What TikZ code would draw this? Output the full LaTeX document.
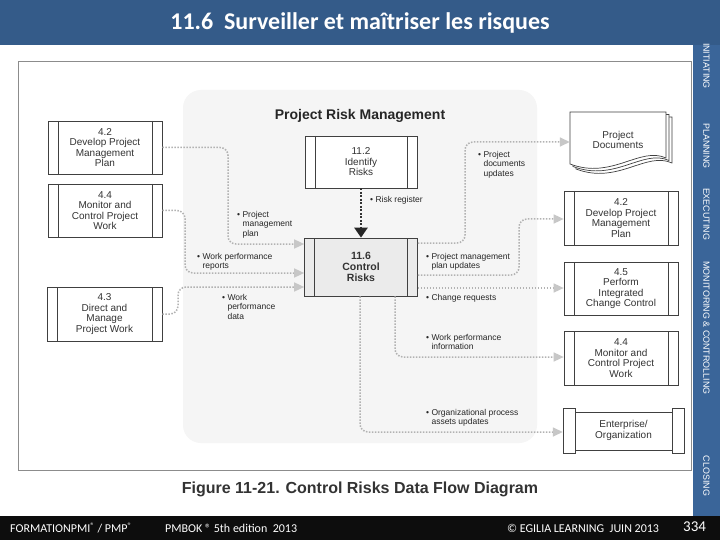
\documentclass[tikz,border=0pt]{standalone}
\usepackage{fontspec}
\setmainfont{Liberation Sans}
\newfontfamily\calib{Carlito}
\usetikzlibrary{arrows.meta}
\definecolor{barblue}{HTML}{345B89}
\definecolor{sideblue}{HTML}{3A6599}
\newcommand\lbul{\textbullet\ }
\newcommand\lind{\hphantom{\textbullet\ }}
\begin{document}
\begin{tikzpicture}[x=1pt,y=-1pt,
  proc/.style={draw=black!75, line width=0.7pt, fill=white, inner sep=1pt, align=center,
    font=\fontsize{10}{10.5}\selectfont, text=black!80,
    path picture={\draw[black!75, line width=0.7pt]
      ([xshift=10pt]path picture bounding box.north west) -- ([xshift=10pt]path picture bounding box.south west)
      ([xshift=-10pt]path picture bounding box.north east) -- ([xshift=-10pt]path picture bounding box.south east);}},
  flow/.style={draw=black!30, line width=1.5pt, dash pattern=on 1.5pt off 1.5pt, rounded corners=8pt,
    -{Triangle[length=10pt,width=9pt,color=black!22]}},
  rrarrow/.style={draw=black!80, line width=2.4pt, dash pattern=on 2pt off 1.5pt,
    -{Triangle[length=10pt,width=13pt,color=black!85]}},
  lbl/.style={font=\fontsize{8.5}{9.5}\selectfont, align=left, inner sep=0pt, anchor=north west, text=black!85},
  side/.style={font=\fontsize{8.9}{10}\selectfont, text=white, rotate=-90, inner sep=0pt},
  foot/.style={font=\calib\fontsize{12}{14}\selectfont, text=white, anchor=west, inner sep=0pt},
  docst/.style={draw=black!75, line width=0.7pt, fill=white}]
\useasboundingbox (0,0) rectangle (720,540);
\fill[white] (0,0) rectangle (720,540);
% bars
\fill[barblue] (0,0) rectangle (720,45.5);
\fill[sideblue] (693,45.5) rectangle (720,516);
\fill[black!95] (0,516) rectangle (720,540);
\node[font=\calib\bfseries\fontsize{24}{26}\selectfont, text=white] (title) at (360,23) {11.6\ \ Surveiller et maîtriser les risques};
% sidebar
\node[side] (s1) at (706.5,66) {INITIATING};
\node[side] (s2) at (706.5,146) {PLANNING};
\node[side] (s3) at (706.5,214) {EXECUTING};
\node[side] (s4) at (706.5,328) {MONITORING \& CONTROLLING};
\node[side] (s5) at (706.5,476) {CLOSING};
% frame and background
\draw[black!45, line width=0.6pt] (18,61) rectangle (691,470);
\fill[black!4, rounded corners=18pt] (183,90) rectangle (537,443);
\node[font=\bfseries\fontsize{14}{16}\selectfont, text=black!85] (prm) at (360,116) {Project Risk Management};
% left boxes
\node[proc, minimum width=114pt, minimum height=53pt] (L42) at (105,147.5) {4.2\\Develop Project\\Management\\Plan};
\node[proc, minimum width=114pt, minimum height=53pt] (L44) at (105,210.5) {4.4\\Monitor and\\Control Project\\Work};
\node[proc, minimum width=115pt, minimum height=54pt] (L43) at (104.5,314) {4.3\\Direct and\\Manage\\Project Work};
% center boxes
\node[proc, minimum width=112pt, minimum height=52pt] (I112) at (361,162) {11.2\\Identify\\Risks};
\node[proc, fill=black!8, minimum width=113pt, minimum height=58pt, font=\bfseries\fontsize{10.5}{11}\selectfont] (C116) at (361,267) {11.6\\Control\\Risks};
% right boxes
\begin{scope}[shift={(6,5)}]
\draw[docst] (570,112) -- (666,112) -- (666,158) .. controls (640,146) and (612,180) .. (570,164) -- cycle;
\end{scope}
\begin{scope}[shift={(3,2.5)}]
\draw[docst] (570,112) -- (666,112) -- (666,158) .. controls (640,146) and (612,180) .. (570,164) -- cycle;
\end{scope}
\draw[docst] (570,112) -- (666,112) -- (666,158) .. controls (640,146) and (612,180) .. (570,164) -- cycle;
\node[align=center, font=\fontsize{10}{10.5}\selectfont, text=black!80, minimum width=96pt, minimum height=56pt, inner sep=0pt] (D) at (618,140) {Project\\Documents};
\node[proc, minimum width=114pt, minimum height=54pt] (R42) at (621,218) {4.2\\Develop Project\\Management\\Plan};
\node[proc, minimum width=114pt, minimum height=53pt] (R45) at (621,288.5) {4.5\\Perform\\Integrated\\Change Control};
\node[proc, minimum width=114pt, minimum height=54pt] (R44) at (621,358) {4.4\\Monitor and\\Control Project\\Work};
% enterprise
\draw[docst] (575,412) rectangle (672,450);
\draw[docst] (563,408) rectangle (575,453);
\draw[docst] (672,408) rectangle (684,453);
\node[align=center, font=\fontsize{10}{10.5}\selectfont, text=black!80, minimum width=121pt, minimum height=45pt, inner sep=0pt] (ENT) at (623.5,430.5) {Enterprise/\\Organization};
% connectors
\draw[rrarrow] (I112.south) -- (C116.north);
\draw[flow] (L42.east) -- (228,147.5) -- (228,244) -- (C116.west |- 0,244);
\draw[flow] (L44.east) -- (185,210.5) -- (185,273) -- (C116.west |- 0,273);
\draw[flow] (L43.east) -- (178,314) -- (178,287) -- (C116.west |- 0,287);
\draw[flow] (C116.east |- 0,243) -- (465,243) -- (465,142) -- (D.west |- 0,142);
\draw[flow] (C116.east |- 0,275) -- (519,275) -- (519,219) -- (R42.west |- 0,219);
\draw[flow] (C116.east |- 0,288) -- (R45.west |- 0,288);
\draw[flow] (C116.south -| 395,0) -- (395,357) -- (R44.west |- 0,357);
\draw[flow] (C116.south -| 360,0) -- (360,432) -- (ENT.west |- 0,432);
% labels
\node[lbl] (t1) at (237,211) {\lbul Project\\\lind management\\\lind plan};
\node[lbl] (t2) at (197,253) {\lbul Work performance\\\lind reports};
\node[lbl] (t3) at (222,294) {\lbul Work\\\lind performance\\\lind data};
\node[lbl] (t4) at (370,196) {\lbul Risk register};
\node[lbl] (t5) at (478,151) {\lbul Project\\\lind documents\\\lind updates};
\node[lbl] (t6) at (426,253) {\lbul Project management\\\lind plan updates};
\node[lbl] (t7) at (426,294) {\lbul Change requests};
\node[lbl] (t8) at (426,334) {\lbul Work performance\\\lind information};
\node[lbl] (t9) at (426,409) {\lbul Organizational process\\\lind assets updates};
% caption
\node[font=\bfseries\fontsize{16}{18}\selectfont, text=black!80] (cap) at (360,489) {Figure 11-21. Control Risks Data Flow Diagram};
% footer
\node[foot] (f1) at (10,528) {FORMATIONPMI\textsuperscript{®} / PMP\textsuperscript{®}};
\node[foot] (f2) at (165,528) {PMBOK ® 5th edition\ \ 2013};
\node[foot] (f3) at (507,528) {© EGILIA LEARNING\ \ JUIN 2013};
\node[foot, font=\calib\fontsize{15}{17}\selectfont] (f4) at (683,527) {334};
\end{tikzpicture}
\end{document}
